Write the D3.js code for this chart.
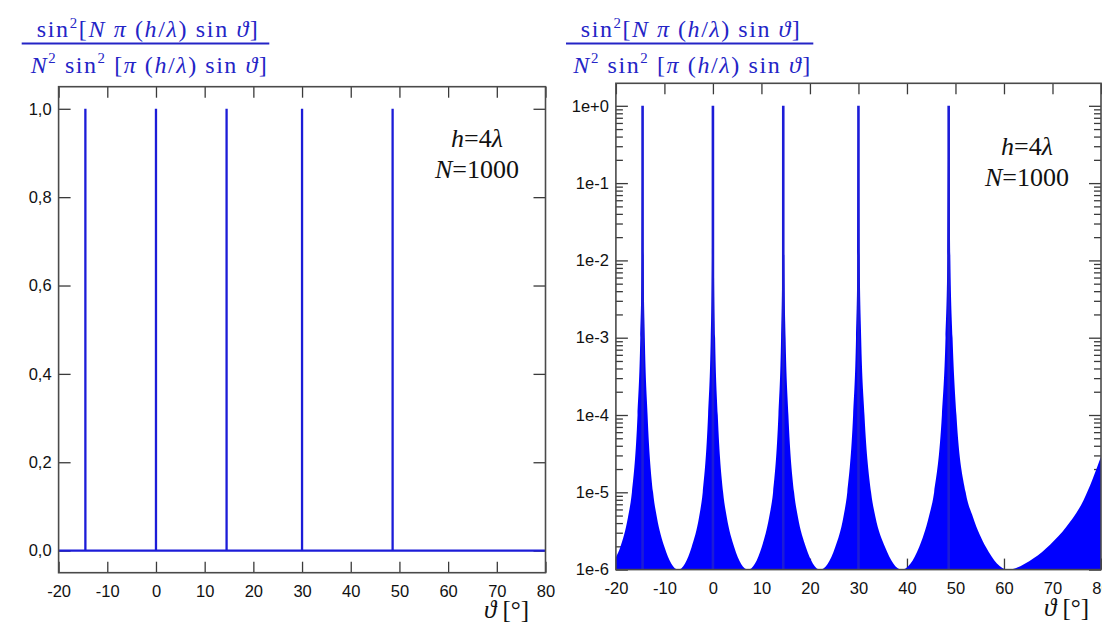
<!DOCTYPE html>
<html>
<head>
<meta charset="utf-8">
<script src="https://cdn.jsdelivr.net/npm/d3@7"></script>
<style>
  body { margin: 0; background: #fff; }
  svg { display: block; }
</style>
</head>
<body>
<script>
// ---- data -------------------------------------------------------------
const thetaTicks = [-20, -10, 0, 10, 20, 30, 40, 50, 60, 70, 80];
const linearTicks = [0, 0.2, 0.4, 0.6, 0.8, 1.0];
const linearTickLabels = ["0,0", "0,2", "0,4", "0,6", "0,8", "1,0"];
const logTicks = [1e0, 1e-1, 1e-2, 1e-3, 1e-4, 1e-5, 1e-6];
const logTickLabels = ["1e+0", "1e-1", "1e-2", "1e-3", "1e-4", "1e-5", "1e-6"];

// principal maxima of the grating function
const peakTheta = [-14.5, 0, 14.5, 30, 48.6];
const peakValue = [1, 1, 1, 1, 1];

// upper envelope of the side-lobe band (log panel)
const envelopeTheta = [
  -20, -19.1, -17.5, -16.7, -15.54, -14.97, -14.7, -14.5, -14.3, -14.04, -13.47, -12.34, -11.56, -9.97,
  -7.15, -4.4, -2.85, -2.1, -1.0, -0.45, -0.2, 0, 0.2, 0.45, 1.0, 2.1, 2.85, 4.4,
  7.25, 10.05, 11.6, 12.4, 13.5, 14.05, 14.3, 14.5, 14.71, 14.98, 15.56, 16.73, 17.52, 19.17,
  22.1, 25.2, 26.9, 27.7, 28.9, 29.5, 29.78, 30, 30.25, 30.56, 31.24, 32.6, 33.5, 35.5,
  38.9, 42.5, 44.5, 45.6, 47.2, 47.95, 48.32, 48.6, 48.95, 49.4, 50.2, 52.1, 53.6, 56.3,
  60.8, 66.1, 69.5, 72.9, 76.4, 80
];
const envelopeValue = [
  1.45e-6, 1.95e-6, 4.8e-6, 1e-5, 1e-4, 1e-3, 1e-2, 1, 1e-2, 1e-3, 1e-4, 1e-5, 4.8e-6, 1.95e-6,
  1e-6, 1.95e-6, 4.8e-6, 1e-5, 1e-4, 1e-3, 1e-2, 1, 1e-2, 1e-3, 1e-4, 1e-5, 4.8e-6, 1.95e-6,
  1e-6, 1.95e-6, 4.8e-6, 1e-5, 1e-4, 1e-3, 1e-2, 1, 1e-2, 1e-3, 1e-4, 1e-5, 4.8e-6, 1.95e-6,
  1e-6, 1.95e-6, 4.8e-6, 1e-5, 1e-4, 1e-3, 1e-2, 1, 1e-2, 1e-3, 1e-4, 1e-5, 4.8e-6, 1.95e-6,
  1e-6, 1.95e-6, 4.8e-6, 1e-5, 1e-4, 1e-3, 1e-2, 1, 1e-2, 1e-3, 1e-4, 1e-5, 4.8e-6, 1.95e-6,
  1e-6, 1.4e-6, 2.1e-6, 3.6e-6, 7.9e-6, 2.9e-5
];

// ---- styling -----------------------------------------------------------
const BLUE_TEXT = "#2424c6";
const BLUE_LINE = "#1c1cd8";
const BLUE_FILL = "#0000ff";
const AXIS = "#3a3a3a";
const SANS = "'Liberation Sans', Arial, sans-serif";
const SERIF = "'Liberation Serif', 'Times New Roman', serif";

const W = 1102, H = 624;
const svg = d3.select("body").append("svg").attr("width", W).attr("height", H);

const L = { x0: 58.6, x1: 545.5, y0: 86.7, y1: 572.7 };
const R = { x0: 615.9, x1: 1101, y0: 83.3, y1: 569.6 };

const xL = d3.scaleLinear().domain([-20, 80]).range([L.x0, L.x1]);
const yL = d3.scaleLinear().domain([-0.05, 1.05]).range([L.y1, L.y0]);
const xR = d3.scaleLinear().domain([-20, 80]).range([R.x0, R.x1]);
const yR = d3.scaleLog().domain([1e-6, 1.955]).range([R.y1, R.y0]);

function styleAxis(g) {
  g.select(".domain").remove();
  g.selectAll(".tick line").attr("stroke", AXIS).attr("stroke-width", 1.3);
  g.selectAll(".tick text")
    .attr("fill", "#111")
    .style("font-family", SANS)
    .style("font-size", "16.5px");
}

function drawFrameAxes(P, x, y, yTickVals, yFmt, minorVals) {
  const g = svg.append("g");
  g.append("g").attr("transform", `translate(0,${P.y1})`)
    .call(d3.axisBottom(x).tickValues(thetaTicks).tickSizeInner(-11).tickSizeOuter(0)
      .tickPadding(12.5).tickFormat(d => String(d)))
    .call(styleAxis);
  g.append("g").attr("transform", `translate(0,${P.y0})`)
    .call(d3.axisTop(x).tickValues(thetaTicks).tickSizeInner(-11).tickSizeOuter(0).tickFormat(""))
    .call(styleAxis);
  g.append("g").attr("transform", `translate(${P.x0},0)`)
    .call(d3.axisLeft(y).tickValues(yTickVals).tickSizeInner(-12).tickSizeOuter(0)
      .tickPadding(7).tickFormat(yFmt))
    .call(styleAxis);
  g.append("g").attr("transform", `translate(${P.x1},0)`)
    .call(d3.axisRight(y).tickValues(yTickVals).tickSizeInner(-12).tickSizeOuter(0).tickFormat(""))
    .call(styleAxis);
  if (minorVals) {
    g.append("g").attr("transform", `translate(${P.x0},0)`)
      .call(d3.axisLeft(y).tickValues(minorVals).tickSizeInner(-7).tickSizeOuter(0).tickFormat(""))
      .call(styleAxis);
    g.append("g").attr("transform", `translate(${P.x1},0)`)
      .call(d3.axisRight(y).tickValues(minorVals).tickSizeInner(-7).tickSizeOuter(0).tickFormat(""))
      .call(styleAxis);
  }
  return g;
}

function drawFrame(P) {
  svg.append("rect")
    .attr("x", P.x0).attr("y", P.y0)
    .attr("width", P.x1 - P.x0).attr("height", P.y1 - P.y0)
    .attr("fill", "none").attr("stroke", "#4a4a4a").attr("stroke-width", 1.6);
}

// ---- left panel: linear scale -------------------------------------------
drawFrameAxes(L, xL, yL, linearTicks, d => linearTickLabels[linearTicks.indexOf(d)]);

// trace: zero everywhere except the principal maxima
const linearTrace = [[-20, 0]];
peakTheta.forEach((t, i) => {
  linearTrace.push([t, 0], [t, peakValue[i]], [t, 0]);
});
linearTrace.push([80, 0]);

svg.append("path")
  .datum(linearTrace)
  .attr("fill", "none")
  .attr("stroke", BLUE_LINE)
  .attr("stroke-width", 2.3)
  .attr("stroke-linejoin", "miter")
  .attr("d", d3.line().x(d => xL(d[0])).y(d => yL(d[1])));
drawFrame(L);

// ---- right panel: logarithmic scale -------------------------------------
const minorTicks = [];
for (let e = -6; e < 0; e++) {
  for (let k = 2; k <= 9; k++) minorTicks.push(k * Math.pow(10, e));
}
drawFrameAxes(R, xR, yR, logTicks, d => logTickLabels[logTicks.indexOf(d)], minorTicks);

const envelope = envelopeTheta.map((t, i) => [t, envelopeValue[i]]);
svg.append("path")
  .datum(envelope)
  .attr("fill", BLUE_FILL)
  .attr("stroke", "none")
  .attr("d", d3.area()
    .x(d => xR(d[0]))
    .y0(yR(1e-6))
    .y1(d => yR(d[1]))
    .curve(d3.curveMonotoneX));

svg.append("g").selectAll("line")
  .data(peakTheta)
  .join("line")
  .attr("x1", d => xR(d)).attr("x2", d => xR(d))
  .attr("y1", yR(1e-6))
  .attr("y2", (d, i) => yR(peakValue[i]))
  .attr("stroke", BLUE_LINE)
  .attr("stroke-width", 2.6);
drawFrame(R);

// ---- formula headings -----------------------------------------------------
const numerator = [
  { t: "sin" }, { t: "2", sup: true }, { t: "[" }, { t: "N", i: true }, { t: " " },
  { t: "π", i: true }, { t: " (" }, { t: "h", i: true }, { t: "/" }, { t: "λ", i: true },
  { t: ") sin " }, { t: "ϑ", i: true }, { t: "]" }
];
const denominator = [
  { t: "N", i: true }, { t: "2", sup: true }, { t: " sin" }, { t: "2", sup: true },
  { t: " [" }, { t: "π", i: true }, { t: " (" }, { t: "h", i: true }, { t: "/" },
  { t: "λ", i: true }, { t: ") sin " }, { t: "ϑ", i: true }, { t: "]" }
];

function richText(x, y, parts, size, width, color, anchor) {
  const txt = svg.append("text")
    .attr("x", x).attr("y", y)
    .attr("text-anchor", anchor || "middle")
    .attr("fill", color)
    .style("font-family", SERIF)
    .style("font-size", size + "px")
    .attr("xml:space", "preserve");
  let shifted = 0;
  parts.forEach(p => {
    const span = txt.append("tspan").text(p.t);
    if (p.i) span.attr("font-style", "italic");
    if (p.sup) {
      span.attr("font-size", (size * 0.62) + "px").attr("dy", -size * 0.38);
      shifted = size * 0.38;
    } else if (shifted) {
      span.attr("dy", shifted);
      shifted = 0;
    }
  });
  if (width) txt.attr("textLength", width).attr("lengthAdjust", "spacing");
  return txt;
}

function heading(cx, lineX0, lineX1, numW, denW) {
  richText(cx, 37, numerator, 24, numW, BLUE_TEXT);
  svg.append("line")
    .attr("x1", lineX0).attr("x2", lineX1)
    .attr("y1", 43.5).attr("y2", 43.5)
    .attr("stroke", BLUE_TEXT).attr("stroke-width", 1.8);
  richText(cx + 1.5, 72.5, denominator, 24, denW, BLUE_TEXT);
}
heading(147.3, 21.7, 269.3, 221, 236);
heading(690.3, 566, 813.3, 219, 237);

// ---- parameter labels -------------------------------------------------------
const paramLines = [
  [{ t: "h", i: true }, { t: "=4" }, { t: "λ", i: true }],
  [{ t: "N", i: true }, { t: "=1000" }]
];
function params(cx, y) {
  richText(cx, y, paramLines[0], 26, null, "#111");
  richText(cx, y + 31, paramLines[1], 26, null, "#111");
}
params(477, 147);
params(1027, 155);

// ---- x-axis titles ------------------------------------------------------------
const xTitle = [{ t: "ϑ", i: true }, { t: " [°]" }];
richText(484, 618, xTitle, 25, null, "#111", "start");
richText(1044, 616, xTitle, 25, null, "#111", "start");
</script>
</body>
</html>
